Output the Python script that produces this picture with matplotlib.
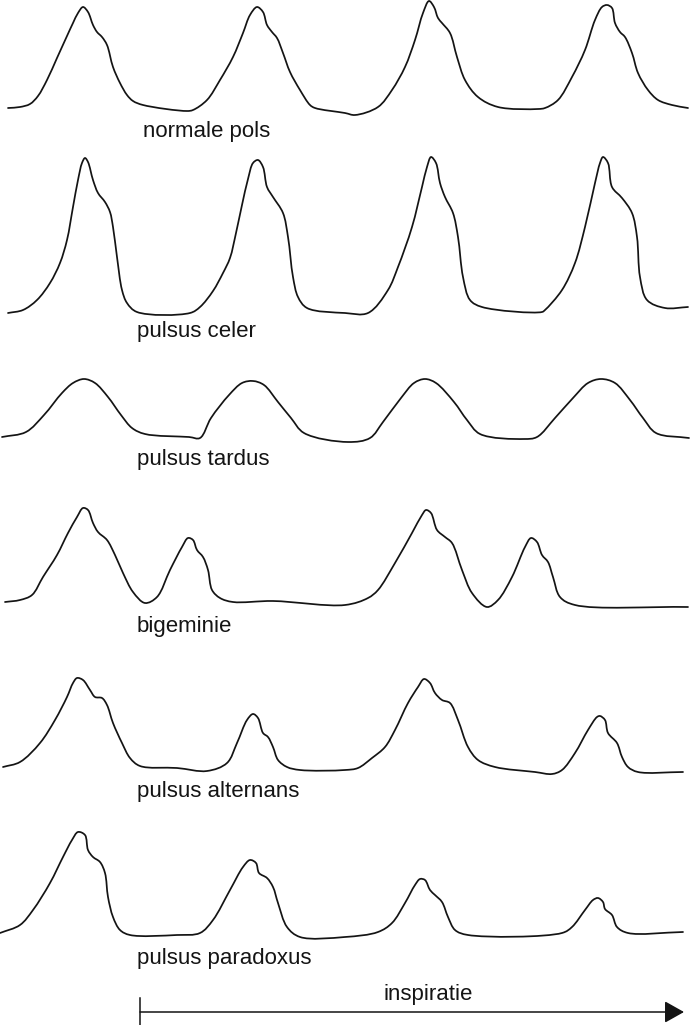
import matplotlib
matplotlib.use("Agg")
import matplotlib.pyplot as plt
import numpy as np
from matplotlib.path import Path
from matplotlib.patches import PathPatch

# pulse traces: time (px) and height above the row baseline
normale_t = [8, 20, 30, 38, 47, 57, 67, 73, 78, 83, 88, 93, 97, 102, 107, 113, 120, 127, 133, 143, 187,
             193, 207, 220, 233, 243, 250, 257, 263, 267, 272, 277, 283, 290, 300, 310, 315, 345,
             355, 378, 392, 405, 415, 423, 429, 434, 438, 442, 450, 457, 465, 478, 498, 538,
             545, 558, 572, 585, 595, 602, 607, 612, 615, 620, 625, 632, 638, 648, 658, 672, 688]
normale_a = [0, 1, 4, 12, 28, 50, 72, 85, 95, 101, 96, 83, 76, 71, 63, 41, 25, 13, 7, 3, -3,
             -2, 8, 28, 51, 75, 93, 101, 96, 83, 76, 70, 55, 36, 18, 3, 0, -5,
             -7, 1, 18, 41, 68, 95, 107, 101, 90, 85, 75, 51, 28, 11, 1, -1,
             0, 8, 31, 58, 88, 101, 103, 100, 85, 76, 71, 55, 35, 18, 8, 3, 0]

celer_t = [8, 23, 37, 50, 60, 67, 73, 78, 82, 85, 88, 93, 98, 105, 110, 113, 117, 122, 127, 137, 190,
           200, 213, 223, 230, 236, 242, 248, 253, 258, 263, 267, 273, 283, 288, 293, 298, 307, 345,
           368, 388, 398, 412, 422, 427, 431, 436, 440, 445, 453, 458, 463, 470, 482, 542,
           545, 562, 575, 585, 595, 600, 603, 608, 612, 622, 632, 637, 640, 647, 665, 688]
celer_a = [0, 3, 13, 30, 50, 73, 106, 133, 150, 155, 151, 133, 120, 111, 101, 86, 56, 23, 10, 1, 0,
           6, 22, 40, 55, 80, 108, 134, 150, 153, 146, 126, 116, 100, 76, 36, 16, 5, 0,
           0, 23, 46, 86, 126, 146, 156, 150, 130, 116, 100, 76, 36, 13, 6, 1,
           3, 23, 50, 86, 130, 150, 156, 150, 126, 115, 100, 76, 36, 13, 5, 6]

tardus_t = [2, 26, 44, 62, 73, 84, 95, 108, 121, 132, 145, 189, 200,
            211, 229, 242, 253, 264, 278, 291, 304, 348, 370,
            383, 401, 414, 425, 436, 454, 467, 480, 524, 537,
            555, 573, 588, 601, 615, 630, 643, 656, 689]
tardus_a = [0, 5, 22, 44, 54, 58, 54, 40, 22, 9, 3, 0, -1,
            19, 42, 54, 56, 52, 35, 19, 4, -5, -1,
            15, 39, 54, 58, 54, 35, 17, 3, -2, 0,
            19, 39, 54, 58, 54, 37, 19, 4, -1]

bigem_t = [5, 20, 32, 43, 57, 68, 77, 83, 88, 93, 98, 107, 115, 123, 133, 145, 157, 170, 182, 188,
           193, 197, 203, 208, 212, 220, 233, 273, 345,
           368, 378, 395, 412, 422, 426, 431, 437, 445, 452, 462, 472, 487, 498, 512, 525, 531,
           537, 542, 548, 553, 560, 575, 688]
bigem_a = [0, 2, 7, 25, 47, 69, 85, 94, 92, 79, 70, 62, 47, 29, 10, -1, 5, 32, 55, 64,
           62, 52, 45, 32, 12, 4, 0, 1, -3,
           4, 12, 39, 69, 87, 92, 89, 72, 65, 59, 32, 9, -5, 2, 25, 55, 64,
           60, 47, 40, 25, 5, -3, -5]

altern_t = [3, 20, 40, 55, 67, 73, 77, 83, 90, 95, 102, 107, 113, 122, 130, 140, 177, 207, 227, 237,
            247, 253, 258, 263, 268, 273, 278, 287, 300,
            345, 358, 372, 385, 395, 408, 418, 424, 430, 435, 442, 450, 458, 468, 478, 495, 535,
            552, 562, 575, 588, 597, 600, 605, 608, 617, 622, 628, 638, 683]
altern_a = [1, 6, 25, 48, 71, 85, 90, 88, 78, 71, 70, 63, 45, 25, 10, 2, 0, -3, 5, 25,
            48, 54, 50, 35, 31, 21, 8, 1, -2,
            -2, 0, 10, 21, 38, 65, 81, 89, 85, 75, 68, 65, 48, 21, 8, 1, -4,
            -6, -2, 15, 38, 51, 52, 48, 35, 25, 11, 1, -4, -4]

parad_t = [0, 20, 33, 50, 63, 72, 78, 85, 88, 93, 100, 105, 108, 113, 120, 130, 177, 200, 213, 230,
           243, 250, 256, 259, 267, 273, 278, 287, 300,
           345, 378, 392, 405, 415, 420, 425, 430, 435, 442, 448, 455, 468, 562, 572, 585, 593,
           598, 603, 605, 612, 617, 628, 683]
parad_a = [0, 8, 23, 50, 76, 93, 101, 98, 83, 76, 71, 60, 36, 16, 3, -2, -2, 0, 13, 43,
           66, 73, 70, 60, 55, 46, 30, 6, -4,
           -4, 1, 10, 30, 48, 54, 53, 43, 38, 31, 16, 3, -2, 0, 6, 23, 33,
           35, 31, 24, 18, 6, 0, 1]

traces = [(normale_t, normale_a), (celer_t, celer_a), (tardus_t, tardus_a),
          (bigem_t, bigem_a), (altern_t, altern_a), (parad_t, parad_a)]
labels = ["normale pols", "pulsus celer", "pulsus tardus",
          "bigeminie", "pulsus alternans", "pulsus paradoxus"]

# layout (pixels from the top)
W, H = 690, 1025
baselines = [108, 313, 437, 602, 768, 933]
label_x = [143, 137, 137, 137, 137, 137]
label_y = [137, 337, 465, 632, 797, 964]

ink = "#141414"
plt.rcParams['font.family'] = ['Liberation Sans', 'DejaVu Sans']

fig = plt.figure(figsize=(W / 100, H / 100), dpi=100)
ax = fig.add_axes([0, 0, 1, 1])
ax.set_xlim(0, W)
ax.set_ylim(0, H)
ax.axis("off")


def smooth_path(t, y, alpha=0.5):
    # centripetal catmull-rom through the read points, as cubic beziers
    P = np.column_stack([np.asarray(t, float), np.asarray(y, float)])
    P = np.vstack([2 * P[0] - P[1], P, 2 * P[-1] - P[-2]])
    verts = [tuple(P[1])]
    codes = [Path.MOVETO]
    for i in range(1, len(P) - 2):
        p0, p1, p2, p3 = P[i - 1], P[i], P[i + 1], P[i + 2]
        d1 = max(np.linalg.norm(p1 - p0), 1e-6) ** alpha
        d2 = max(np.linalg.norm(p2 - p1), 1e-6) ** alpha
        d3 = max(np.linalg.norm(p3 - p2), 1e-6) ** alpha
        b1 = (d1 ** 2 * p2 - d2 ** 2 * p0 + (2 * d1 ** 2 + 3 * d1 * d2 + d2 ** 2) * p1) / (3 * d1 * (d1 + d2))
        b2 = (d3 ** 2 * p1 - d2 ** 2 * p3 + (2 * d3 ** 2 + 3 * d3 * d2 + d2 ** 2) * p2) / (3 * d3 * (d3 + d2))
        verts += [tuple(b1), tuple(b2), tuple(p2)]
        codes += [Path.CURVE4] * 3
    return Path(verts, codes)


for (t, a), base, lab, lx, ly in zip(traces, baselines, labels, label_x, label_y):
    y0 = H - base
    p = smooth_path(t, np.asarray(a, float) + y0)
    ax.add_patch(PathPatch(p, facecolor="none", edgecolor=ink, lw=1.25,
                           capstyle="round", joinstyle="round"))
    ax.text(lx, H - ly, lab, fontsize=16, color=ink, ha="left", va="baseline")

# inspiratie arrow
ax.plot([140, 140], [H - 998, H - 1025], color=ink, lw=1.1)
ax.annotate("", xy=(684, H - 1012), xytext=(140, H - 1012),
            arrowprops=dict(arrowstyle="-|>,head_length=0.8,head_width=0.45",
                            mutation_scale=15, lw=1.1, color=ink,
                            shrinkA=0, shrinkB=0))
ax.text(428, H - 1000, "inspiratie", fontsize=16, color=ink, ha="center", va="baseline")

fig.savefig("out.png", dpi=100)
